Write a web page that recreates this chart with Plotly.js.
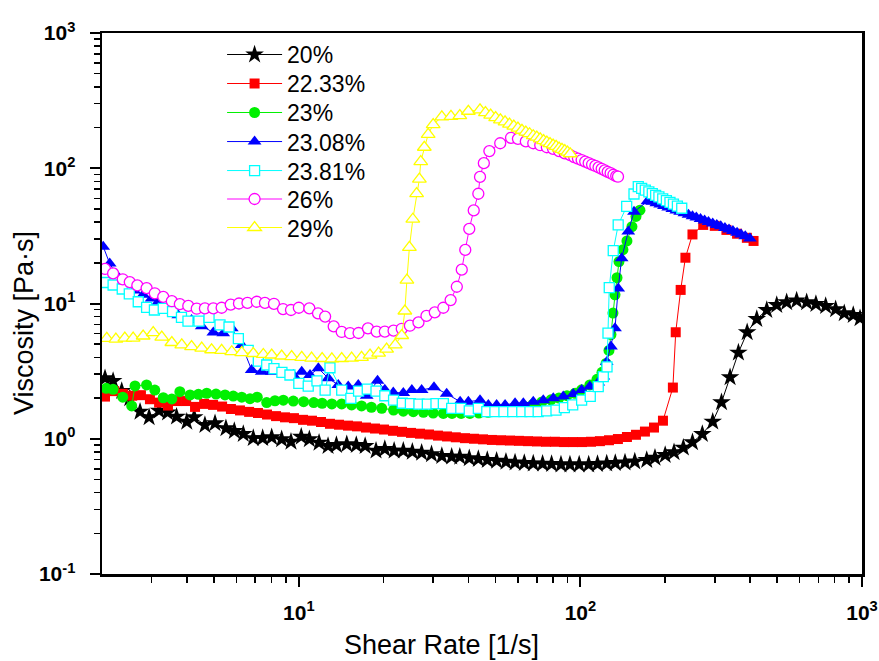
<!DOCTYPE html>
<html><head><meta charset="utf-8">
<script src="https://cdn.plot.ly/plotly-3.0.1.min.js"></script>
<style>html,body{margin:0;padding:0;background:#fff;}#chart{width:879px;height:661px;}</style>
</head><body><div id="chart"></div>
<script>
// ---- data ----
const x20 = [2.05,2.19,2.35,2.51,2.73,2.94,3.19,3.42,3.68,4.00,4.25,4.64,5.04,5.51,5.90,6.35,6.89,7.44,8.01,8.69,9.38,10.2,10.9,11.8,12.7,13.6,14.8,16.0,17.2,18.8,20.2,21.8,23.5,25.3,27.3,29.6,32.2,34.9,37.3,40.3,43.4,46.7,50.4,54.4,58.6,63.2,68.0,73.4,79.0,85.3,91.8,99.0,107,115,124,133,144,156,172,184,200,215,232,250,271,295,317,340,364,391,423,459,498,540,586,636,686,743,806,865,931,984];
const y20 = [2.80,2.67,2.25,1.99,1.585,1.44,1.61,1.56,1.456,1.336,1.44,1.264,1.30,1.195,1.14,1.084,1.01,1.01,1.025,0.99,0.95,1.035,0.99,0.935,0.884,0.899,0.91,0.899,0.884,0.816,0.84,0.816,0.816,0.802,0.788,0.767,0.746,0.737,0.735,0.717,0.708,0.697,0.688,0.676,0.667,0.662,0.655,0.654,0.65,0.645,0.644,0.645,0.645,0.65,0.656,0.662,0.667,0.679,0.697,0.724,0.758,0.794,0.859,0.941,1.084,1.337,1.86,2.85,4.33,6.12,7.68,8.95,9.75,10.2,10.5,10.2,9.91,9.58,9.05,8.46,8.22,7.77];

const x2233 = [2.05,2.21,2.37,2.56,2.75,2.96,3.19,3.43,3.69,3.98,
 4.28,4.61,4.96,5.34,5.74,6.18,6.66,7.16,7.71,8.30,
 8.93,9.61,10.35,11.14,11.99,12.90,13.89,14.95,16.09,17.32,
 18.64,20.07,21.60,23.25,25.02,26.94,29.0,31.2,33.6,36.1,
 38.9,41.9,45.1,48.5,52.2,56.2,60.5,65.1,70.1,75.5,
 81.2,87.4,94.1,101.3,109.0,117.3,126.3,135.9,146.3,157.5,
 169.5,182.5,196.4,213,218,227,236,250,273,300,330,360,390,412];
const y2233 = [2.05,2.25,2.15,2.08,2.1,1.96,1.85,1.76,1.9,1.9,
 1.72,1.81,1.78,1.73,1.66,1.62,1.58,1.55,1.51,1.47,
 1.44,1.42,1.38,1.36,1.33,1.29,1.27,1.25,1.235,1.21,
 1.19,1.17,1.145,1.125,1.105,1.09,1.075,1.055,1.04,1.025,
 1.01,1.0,0.99,0.98,0.975,0.97,0.965,0.96,0.955,0.95,
 0.95,0.945,0.945,0.945,0.95,0.96,0.975,0.995,1.03,1.07,
 1.13,1.21,1.36,2.39,6.13,12.6,21.8,32.4,38.1,37.5,35.0,32.8,30.6,29.0];

const x23 = [2.07,2.19,2.37,2.55,2.62,2.88,3.08,3.30,3.54,3.78,4.11,4.40,4.71,5.08,5.47,5.85,6.27,6.71,7.12,7.69,8.23,8.81,9.56,10.4,11.3,12.1,13.1,14.2,15.4,16.7,18.1,19.7,21.7,23.5,25.5,27.7,30.0,32.6,35.0,37.7,40.5,43.6,47.0,50.5,54.4,58.6,63.0,67.9,73.0,78.6,83.9,89.6,95.7,101,108,114.5,119.3,123.3,126.3,128.4,130.5,132.7,134.9,137.1,141.6,146.3,152.4,157.5,162.7];
const y23 = [2.36,2.32,2.03,1.75,2.46,2.5,2.29,2.01,1.97,2.23,2.11,2.13,2.17,2.14,2.11,2.07,2.03,1.98,2.03,1.85,1.91,1.93,1.9,1.88,1.85,1.83,1.81,1.81,1.78,1.75,1.71,1.68,1.63,1.60,1.585,1.57,1.55,1.54,1.54,1.54,1.54,1.55,1.57,1.6,1.64,1.69,1.74,1.8,1.87,1.94,2.0,2.08,2.17,2.3,2.5,2.75,3.1,3.6,4.5,5.9,8.5,11.6,15.5,20.4,25,29,37,44,49];

const x2308 = [2.02,2.13,2.24,2.39,2.60,2.80,3.00,3.17,3.49,3.73,4.16,4.52,4.97,5.39,5.78,6.27,6.80,7.38,8.01,8.81,9.56,10.24,10.96,11.73,12.72,13.81,14.98,16.26,17.42,19.03,20.2,21.65,23.5,25.2,27.3,30.2,33.5,37.4,40.0,44.0,47.1,50.4,54.0,58.6,62.7,68.0,73.8,80.1,86.9,94.3,101,108,115.7,120.6,124.0,128.4,132.7,136.2,140.1,147.9,155.0,173,180,186,192,198,205,212,219,226,234,242,250,258,267,276,285,295,305,315,326,337,348,360,372,385,400];
const y2308 = [26.3,19.8,16.5,14.5,12.5,11.6,10.9,10.3,9.5,8.2,7.55,6.8,6.1,6.03,6.55,4.94,3.22,3.13,3.13,3.01,2.96,3.13,2.96,3.32,2.8,2.5,2.43,2.5,2.08,2.68,2.3,2.2,2.18,2.29,2.29,2.4,2.15,1.88,1.88,1.93,1.78,1.78,1.78,1.83,1.83,1.88,1.93,1.99,2.05,2.14,2.29,2.43,2.6,2.88,3.7,4.8,6.55,12.9,21.6,34.0,47.6,57,56.5,55.2,53.9,52.6,51.3,50.0,48.8,47.7,46.4,45.3,44.2,43.2,42.1,41.0,40.1,39.0,38.1,37.2,36.2,35.3,34.4,33.4,32.4,31.4,30.3];

const x2381 = [2.05,2.19,2.36,2.50,2.69,2.88,3.07,3.30,3.56,3.83,4.04,4.42,4.80,5.25,5.65,6.10,6.61,7.18,7.69,8.16,8.71,9.30,10.0,10.8,11.6,12.4,12.9,14.2,15.3,16.3,17.5,18.8,20.2,21.7,23.3,24.9,26.7,28.6,30.7,32.6,34.9,37.6,40.3,43.4,46.5,49.7,53.5,57.5,61.9,66.2,70.8,75.9,81.9,87.7,93.9,101,108.4,115.7,120.6,124.3,125.3,126.6,130.8,136.2,146.0,155.0,160.5,165,170,175,180,185,190,196,202,208,214,221,229];
const y2381 = [14.3,13.7,12.8,11.8,10.3,9.35,8.95,9.2,8.72,7.9,7.4,7.4,7.9,6.94,6.7,5.5,4.5,3.75,3.51,3.3,3.1,2.96,2.57,2.45,2.68,2.29,3.35,2.29,1.99,2.25,2.33,2.25,2.08,1.93,1.83,1.82,1.8,1.8,1.82,1.82,1.68,1.68,1.61,1.68,1.585,1.585,1.585,1.585,1.585,1.585,1.585,1.61,1.63,1.7,1.78,1.93,2.06,2.43,2.88,3.4,6.03,13.1,24.6,38.1,52.2,64.5,73.1,70.9,68.8,66.8,64.9,63.1,61.4,59.4,57.6,55.9,54.3,52.5,50.6];

const x26 = [2.05,2.19,2.37,2.51,2.67,2.88,3.08,3.30,3.54,3.78,4.05,4.34,4.64,4.97,5.32,5.73,6.13,6.57,7.09,7.58,8.16,8.79,9.38,10.0,10.9,11.7,12.4,13.3,14.2,15.2,16.3,17.6,18.9,20.2,21.7,23.2,24.8,26.6,28.4,30.4,32.6,34.6,36.4,37.9,39.0,40.3,41.8,43.4,44.0,45.4,47.5,51.9,56.7,60,64,68,72,76,80,84,88,92,95,98,101,104,107,110,113,116,119,122,125,128,131,134,136];
const y26 = [18.0,16.7,15.1,14.4,13.6,13.0,11.9,11.2,10.4,9.9,9.6,9.15,9.2,9.2,9.3,9.8,10.0,10.1,10.3,10.1,9.95,9.1,8.95,9.3,9.2,8.46,8.0,6.77,6.16,6.03,6.05,6.55,6.2,6.2,6.3,6.5,6.85,7.25,8.1,8.6,9.3,10.6,13.3,17.8,24.9,35.6,48.8,64.8,86.3,109,134,153,168,165,158,153,148,143,139,134,129,125,121,118,115,112,109,106.5,104,101.5,99,96.5,94,92,89.5,87.5,86.6];

const x29 = [2.08,2.24,2.41,2.58,2.80,3.04,3.26,3.54,3.84,4.16,4.52,4.90,5.32,5.78,6.27,6.89,7.48,8.01,8.69,9.43,10.24,11.1,12.1,13.1,14.2,15.4,16.7,17.9,19.2,20.5,22.0,23.2,23.8,24.2,24.7,25.4,26.2,26.8,27.1,27.9,28.8,30.0,32.2,34.7,37.3,40.0,44.0,46,48,50,52,54,56,58,60,62,64,66,68,70,72,74,76,78,80,82,84,86,88,90,92];
const y29 = [5.53,5.45,5.55,5.55,5.75,6.1,5.65,5.15,4.94,4.8,4.68,4.55,4.5,4.4,4.33,4.27,4.2,4.16,4.09,4.05,4.0,3.95,3.92,3.9,3.92,3.95,4.0,4.15,4.3,4.6,4.95,5.8,8.8,14.9,26,42,65,83,112,143,178,210,240,242,245,264,270,258,247,237,228,220,212,205,198,191,185,180,174,170,165,160,156,152,148.5,145,141,138,135,131.5,128];

const seriesNames = ['20%','22.33%','23%','23.08%','23.81%','26%','29%'];
const seriesX = [x20,x2233,x23,x2308,x2381,x26,x29];
const seriesY = [y20,y2233,y23,y2308,y2381,y26,y29];
const colors = ['#000000','#ff0000','#00f000','#0000ff','#00ffff','#ff00ff','#ffff00'];
const symbols = ['star','square','circle','triangle-up','square','circle','triangle-up'];
const hollow = [false,false,false,false,true,true,true];
const sizes = [14,10,11,12,10,11,12];

const xTickVals = [10,100,1000];
const xTickText = ['10<sup>1</sup>','10<sup>2</sup>','10<sup>3</sup>'];
const yTickVals = [0.1,1,10,100,1000];
const yTickText = ['10<sup>-1</sup>','10<sup>0</sup>','10<sup>1</sup>','10<sup>2</sup>','10<sup>3</sup>'];
const xMinor = [3,4,5,6,7,8,9,20,30,40,50,60,70,80,90,200,300,400,500,600,700,800,900];
const yMinor = [0.2,0.3,0.4,0.5,0.6,0.7,0.8,0.9,2,3,4,5,6,7,8,9,20,30,40,50,60,70,80,90,200,300,400,500,600,700,800,900];

// legend rows: one small legend per series so the row spacing matches the reference
const legendTopPaper = [0.9999,0.9463,0.8927,0.8390,0.7854,0.7328,0.6801];
const legendIds = ['legend','legend2','legend3','legend4','legend5','legend6','legend7'];

const traces = seriesNames.map((n,i)=>({
  type:'scatter', mode:'lines+markers', name:n, legend:legendIds[i],
  x:seriesX[i], y:seriesY[i],
  line:{color:colors[i], width:1},
  marker:{symbol:symbols[i], size:sizes[i],
    color: hollow[i] ? '#ffffff' : colors[i],
    line:{color:colors[i], width: hollow[i] ? 1.3 : 0}}
}));

const axisCommon = {
  type:'log', showline:true, linecolor:'#000', linewidth:2.5, mirror:true,
  ticks:'outside', ticklen:10, tickwidth:2, tickcolor:'#000',
  tickmode:'array', showgrid:false, zeroline:false,
  tickfont:{family:'Arial, Liberation Sans, sans-serif', size:21, color:'#000', weight:'bold'}
};

const layout = {
  width:879, height:661,
  margin:{l:102, r:17, t:33, b:87},
  paper_bgcolor:'#ffffff', plot_bgcolor:'#ffffff',
  showlegend:true,
  xaxis:Object.assign({}, axisCommon, {
    range:[Math.log10(2), 3], tickvals:xTickVals, ticktext:xTickText, ticklabelstandoff:8,
    minor:{tickmode:'array', tickvals:xMinor, ticks:'outside', ticklen:6, tickwidth:1.5, tickcolor:'#000', showgrid:false}
  }),
  yaxis:Object.assign({}, axisCommon, {
    range:[-1, 3], tickvals:yTickVals, ticktext:yTickText, ticklabelstandoff:10,
    minor:{tickmode:'array', tickvals:yMinor, ticks:'outside', ticklen:6, tickwidth:1.5, tickcolor:'#000', showgrid:false}
  }),
  annotations:[
    {text:'Shear Rate [1/s]', xref:'paper', yref:'paper', x:0.447, y:-0.131, xanchor:'center', yanchor:'middle', showarrow:false,
     font:{family:'Arial, Liberation Sans, sans-serif', size:27, color:'#000'}},
    {text:'Viscosity [Pa·s]', xref:'paper', yref:'paper', x:-0.1026, y:0.464, xanchor:'center', yanchor:'middle', textangle:-90, showarrow:false,
     font:{family:'Arial, Liberation Sans, sans-serif', size:27, color:'#000'}}
  ]
};
legendIds.forEach((id,i)=>{
  layout[id] = {x:0.158, y:legendTopPaper[i], xanchor:'left', yanchor:'top',
    font:{family:'Arial, Liberation Sans, sans-serif', size:23, color:'#000'},
    bgcolor:'rgba(0,0,0,0)', itemwidth:55};
});

Plotly.newPlot('chart', traces, layout, {displayModeBar:false, staticPlot:true});
</script>
</body></html>
